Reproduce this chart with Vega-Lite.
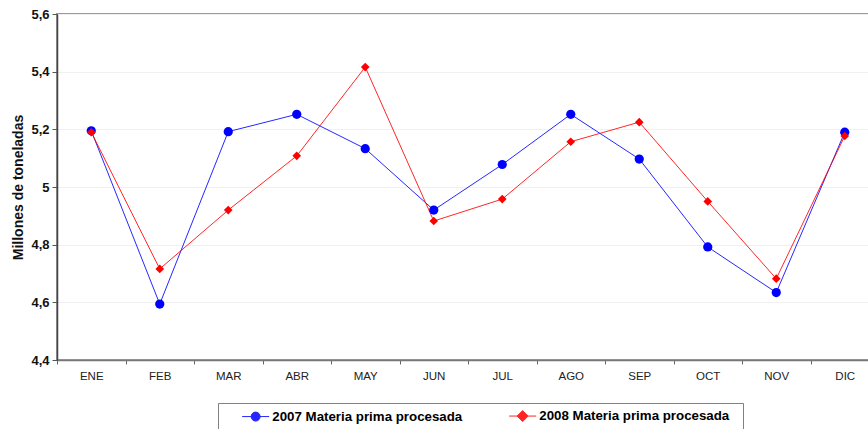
{
  "$schema": "https://vega.github.io/schema/vega-lite/v6.json",
  "width": 822,
  "height": 346,
  "autosize": "none",
  "padding": {"left": 57, "top": 14, "right": 0, "bottom": 69},
  "config": {
    "view": {"stroke": "#9a9a9a", "strokeWidth": 2},
    "font": "Liberation Sans"
  },
  "data": {
    "values": [
      {"mes": "ENE", "serie": "2007 Materia prima procesada", "valor": 5.195},
      {"mes": "FEB", "serie": "2007 Materia prima procesada", "valor": 4.594},
      {"mes": "MAR", "serie": "2007 Materia prima procesada", "valor": 5.192},
      {"mes": "ABR", "serie": "2007 Materia prima procesada", "valor": 5.252},
      {"mes": "MAY", "serie": "2007 Materia prima procesada", "valor": 5.133},
      {"mes": "JUN", "serie": "2007 Materia prima procesada", "valor": 4.92},
      {"mes": "JUL", "serie": "2007 Materia prima procesada", "valor": 5.078},
      {"mes": "AGO", "serie": "2007 Materia prima procesada", "valor": 5.252},
      {"mes": "SEP", "serie": "2007 Materia prima procesada", "valor": 5.097},
      {"mes": "OCT", "serie": "2007 Materia prima procesada", "valor": 4.792},
      {"mes": "NOV", "serie": "2007 Materia prima procesada", "valor": 4.634},
      {"mes": "DIC", "serie": "2007 Materia prima procesada", "valor": 5.19},
      {"mes": "ENE", "serie": "2008 Materia prima procesada", "valor": 5.19},
      {"mes": "FEB", "serie": "2008 Materia prima procesada", "valor": 4.716},
      {"mes": "MAR", "serie": "2008 Materia prima procesada", "valor": 4.92},
      {"mes": "ABR", "serie": "2008 Materia prima procesada", "valor": 5.108},
      {"mes": "MAY", "serie": "2008 Materia prima procesada", "valor": 5.416},
      {"mes": "JUN", "serie": "2008 Materia prima procesada", "valor": 4.882},
      {"mes": "JUL", "serie": "2008 Materia prima procesada", "valor": 4.958},
      {"mes": "AGO", "serie": "2008 Materia prima procesada", "valor": 5.157},
      {"mes": "SEP", "serie": "2008 Materia prima procesada", "valor": 5.225},
      {"mes": "OCT", "serie": "2008 Materia prima procesada", "valor": 4.95},
      {"mes": "NOV", "serie": "2008 Materia prima procesada", "valor": 4.682},
      {"mes": "DIC", "serie": "2008 Materia prima procesada", "valor": 5.177}
    ]
  },
  "encoding": {
    "x": {
      "field": "mes",
      "type": "nominal",
      "sort": ["ENE", "FEB", "MAR", "ABR", "MAY", "JUN", "JUL", "AGO", "SEP", "OCT", "NOV", "DIC"],
      "scale": {"type": "band", "paddingInner": 0, "paddingOuter": 0},
      "axis": {
        "title": null,
        "labelAngle": 0,
        "labelFontSize": 11.5,
        "labelColor": "#222222",
        "labelPadding": 6,
        "tickSize": 4,
        "tickBand": "extent",
        "tickColor": "#666666",
        "domainColor": "#777777",
        "domainWidth": 1.5,
        "grid": false
      }
    },
    "y": {
      "field": "valor",
      "type": "quantitative",
      "scale": {"domain": [4.4, 5.6], "nice": false, "zero": false},
      "axis": {
        "values": [4.4, 4.6, 4.8, 5, 5.2, 5.4, 5.6],
        "labelExpr": "replace(format(datum.value, '~g'), '.', ',')",
        "labelFontSize": 13,
        "labelFontWeight": "bold",
        "labelColor": "#111111",
        "labelPadding": 3,
        "tickSize": 5,
        "tickColor": "#555555",
        "domainColor": "#444444",
        "domainWidth": 1.5,
        "grid": true,
        "gridColor": "#f0f0f0",
        "title": "Millones de toneladas",
        "titleFontSize": 14,
        "titleFontWeight": "bold",
        "titleColor": "#111111",
        "titlePadding": 5
      }
    },
    "color": {
      "field": "serie",
      "type": "nominal",
      "scale": {"range": ["#0000ff", "#ff0000"]},
      "legend": {
        "orient": "none",
        "legendX": 161,
        "legendY": 389,
        "direction": "horizontal",
        "title": " ",
        "titleOrient": "right",
        "titlePadding": 8,
        "titleFontSize": 13,
        "strokeColor": "#808080",
        "fillColor": "#ffffff",
        "padding": 6,
        "labelFontSize": 13.3,
        "labelFontWeight": "bold",
        "labelColor": "#000000",
        "labelLimit": 400,
        "labelOffset": 10,
        "symbolSize": 100,
        "symbolOffset": 25,
        "symbolStrokeWidth": 1,
        "columnPadding": 28,
        "symbolType": {"expr": "datum.value == '2007 Materia prima procesada' ? 'M-2.7,0H2.7M0.9,0A0.9,0.9,0,1,1,-0.9,0A0.9,0.9,0,1,1,0.9,0Z' : 'M-2.7,0H2.7M0,-1.1L1.1,0L0,1.1L-1.1,0Z'"},
        "symbolFillColor": {"expr": "datum.value == '2007 Materia prima procesada' ? '#0000ff' : '#ff0000'"}
      }
    }
  },
  "layer": [
    {"mark": {"type": "line", "strokeWidth": 1, "opacity": 0.85}},
    {
      "mark": {"type": "point", "filled": true, "opacity": 1},
      "encoding": {
        "shape": {"field": "serie", "type": "nominal", "scale": {"range": ["circle", "diamond"]}, "legend": null},
        "size": {"field": "serie", "type": "nominal", "scale": {"range": [85, 75]}, "legend": null}
      }
    }
  ]
}
